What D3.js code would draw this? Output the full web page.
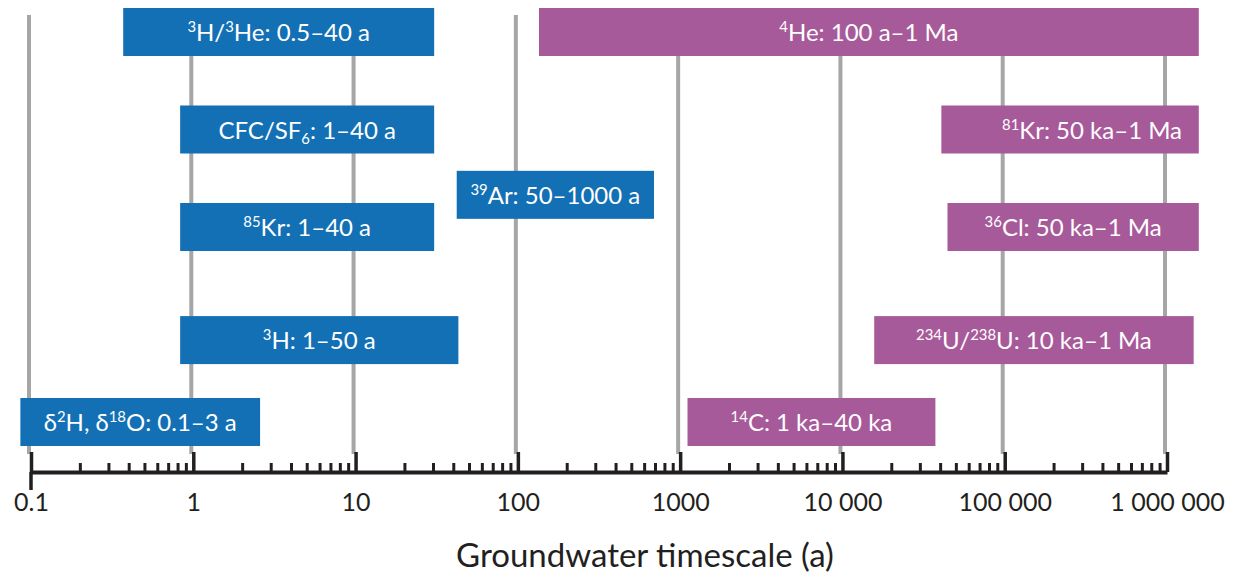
<!DOCTYPE html>
<html>
<head>
<meta charset="utf-8">
<script src="https://cdn.jsdelivr.net/npm/d3@7"></script>
<style>
  body { margin: 0; background: #fff; }
  svg { display: block; font-family: Lato, "Open Sans", sans-serif; }
</style>
</head>
<body>
<div id="chart"></div>
<script>
const width = 1235;
const height = 579;

// tracer bars: label markup uses {..} for superscript and [..] for subscript
const labels = [
    "{3}H/{3}He: 0.5–40 a",
    "{4}He: 100 a–1 Ma",
    "CFC/SF[6]: 1–40 a",
    "{81}Kr: 50 ka–1 Ma",
    "{39}Ar: 50–1000 a",
    "{85}Kr: 1–40 a",
    "{36}Cl: 50 ka–1 Ma",
    "{3}H: 1–50 a",
    "{234}U/{238}U: 10 ka–1 Ma",
    "δ{2}H, δ{18}O: 0.1–3 a",
    "{14}C: 1 ka–40 ka"
];
// bar extents as drawn (years)
const starts = [0.37, 135, 0.83, 40700, 42, 0.83, 44400, 0.83, 15700, 0.086, 1110];
const ends = [30.5, 1.57e6, 30.5, 1.57e6, 690, 30.5, 1.57e6, 43, 1.46e6, 2.58, 37400];
const lanes = [0, 0, 1, 1, 1.67, 2, 2, 3.16, 3.16, 4, 4];
const groups = ["short", "long", "short", "long", "short", "short", "long", "short", "long", "short", "long"];

const tickValues = [0.1, 1, 10, 100, 1000, 10000, 100000, 1000000];
const tickLabels = ["0.1", "1", "10", "100", "1000", "10 000", "100 000", "1 000 000"];
const axisTitle = "Groundwater timescale (a)";

const colors = { short: "#1370b5", long: "#a75a9a" };

const axisY = 472;
const barH = 48;

const svg = d3.select("#chart")
    .append("svg")
    .attr("width", width)
    .attr("height", height);

const x = d3.scaleLog()
    .domain([0.1, 1e6])
    .range([31, 1167]);

const y = d3.scaleLinear()
    .domain([0, 4])
    .range([8, 398]);

// vertical grid lines
svg.append("g")
    .selectAll("line")
    .data(tickValues)
    .join("line")
    .attr("x1", d => x(d) - 2)
    .attr("x2", d => x(d) - 2)
    .attr("y1", 15)
    .attr("y2", axisY - 18)
    .attr("stroke", "#a6a6a6")
    .attr("stroke-width", 4);

// bars
const data = labels.map((l, i) => ({
    label: l, start: starts[i], end: ends[i], lane: lanes[i], group: groups[i]
}));

const bar = svg.append("g")
    .selectAll("g")
    .data(data)
    .join("g");

bar.append("rect")
    .attr("x", d => x(d.start))
    .attr("y", d => y(d.lane))
    .attr("width", d => x(d.end) - x(d.start))
    .attr("height", barH)
    .attr("fill", d => colors[d.group]);

function addRich(text, markup) {
    const parts = markup.split(/(\{[^}]*\}|\[[^\]]*\])/).filter(s => s.length);
    parts.forEach(p => {
        if (p[0] === "{") {
            text.append("tspan").attr("font-size", "0.62em").attr("baseline-shift", "0.6em").text(p.slice(1, -1));
        } else if (p[0] === "[") {
            text.append("tspan").attr("font-size", "0.62em").attr("baseline-shift", "-0.35em").text(p.slice(1, -1));
        } else {
            text.append("tspan").text(p);
        }
    });
}

// the 81Kr label sits a little right of centre in the original
bar.append("text")
    .attr("x", d => (x(d.start) + x(d.end)) / 2 + (d.label.startsWith("{81}") ? 22 : 0))
    .attr("y", d => y(d.lane) + barH / 2 + 9)
    .attr("text-anchor", "middle")
    .attr("fill", "#fff")
    .style("font-size", "24px")
    .each(function (d) { addRich(d3.select(this), d.label); });

// axis: major ticks point up, labels below
const axis = svg.append("g")
    .attr("transform", `translate(0,${axisY})`);

axis.call(d3.axisBottom(x)
    .tickValues(tickValues)
    .tickFormat((d, i) => tickLabels[i])
    .tickSizeInner(-20)
    .tickSizeOuter(0)
    .tickPadding(21));

const minors = [];
tickValues.slice(0, -1).forEach(t => {
    for (let k = 2; k <= 9; k++) minors.push(t * k);
});

const minorAxis = svg.append("g")
    .attr("transform", `translate(0,${axisY})`)
    .call(d3.axisBottom(x)
        .tickValues(minors)
        .tickFormat("")
        .tickSizeInner(-9)
        .tickSizeOuter(0));

minorAxis.select(".domain").remove();
minorAxis.selectAll("line").attr("stroke", "#231f20").attr("stroke-width", 3);

axis.select(".domain")
    .attr("stroke", "#231f20")
    .attr("stroke-width", 4);
axis.selectAll(".tick line")
    .attr("stroke", "#231f20")
    .attr("stroke-width", 3.5);
axis.selectAll(".tick text")
    .attr("fill", "#231f20")
    .style("font-size", "25px")
    .style("font-family", "Lato, sans-serif");

// first tick runs below the axis
axis.append("line")
    .attr("x1", x(0.1))
    .attr("x2", x(0.1))
    .attr("y1", 0)
    .attr("y2", 18)
    .attr("stroke", "#231f20")
    .attr("stroke-width", 3.5);

svg.append("text")
    .attr("x", 645)
    .attr("y", 567)
    .attr("text-anchor", "middle")
    .attr("fill", "#231f20")
    .style("font-size", "33px")
    .text(axisTitle);
</script>
</body>
</html>
